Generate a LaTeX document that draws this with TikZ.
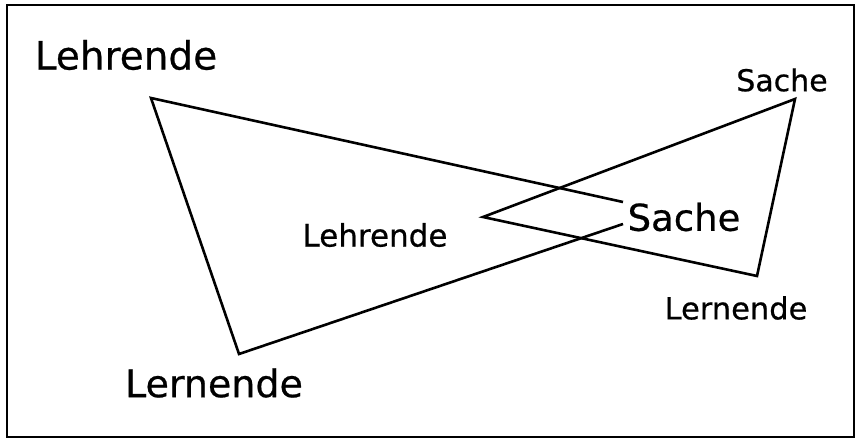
\documentclass[tikz,border=0pt]{standalone}
\usepackage{fontspec}
\setmainfont{DejaVu Sans}[BoldFont={DejaVu Sans},BoldFeatures={FakeBold=0.6}]
\begin{document}
\begin{tikzpicture}[x=1pt,y=-1pt,
  line/.style={line width=2.6pt,line join=miter},
  lbl/.style={inner sep=0pt,font=\bfseries}]
\useasboundingbox (0,0) rectangle (857,440);
\draw[line width=2.4pt] (7,5) rectangle (854,437);
% text
\node[lbl] (lehrA) at (126,55) {\fontsize{39}{42}\selectfont Lehrende};
\node[lbl] (lernA) at (214,383) {\fontsize{38}{41}\selectfont Lernende};
\node[lbl] (sacheA) at (684,217) {\fontsize{37}{40}\selectfont Sache};
\node[lbl] (lehrB) at (375,235) {\fontsize{31}{34}\selectfont Lehrende};
\node[lbl] (sacheB) at (782,80) {\fontsize{30}{33}\selectfont Sache};
\node[lbl] (lernB) at (736,308) {\fontsize{30.5}{33}\selectfont Lernende};
% vertices
\coordinate (a1) at (151,98);
\coordinate (a2) at (239,354);
\coordinate (a3) at (623,202);
\coordinate (a4) at (623,224);
\coordinate (b1) at (483,217);
\coordinate (b2) at (795,99);
\coordinate (b3) at (757,276);
\draw[line] (a3) -- (a1) -- (a2) -- (a4);
\draw[line] (b1) -- (b2) -- (b3) -- cycle;
\end{tikzpicture}
\end{document}
